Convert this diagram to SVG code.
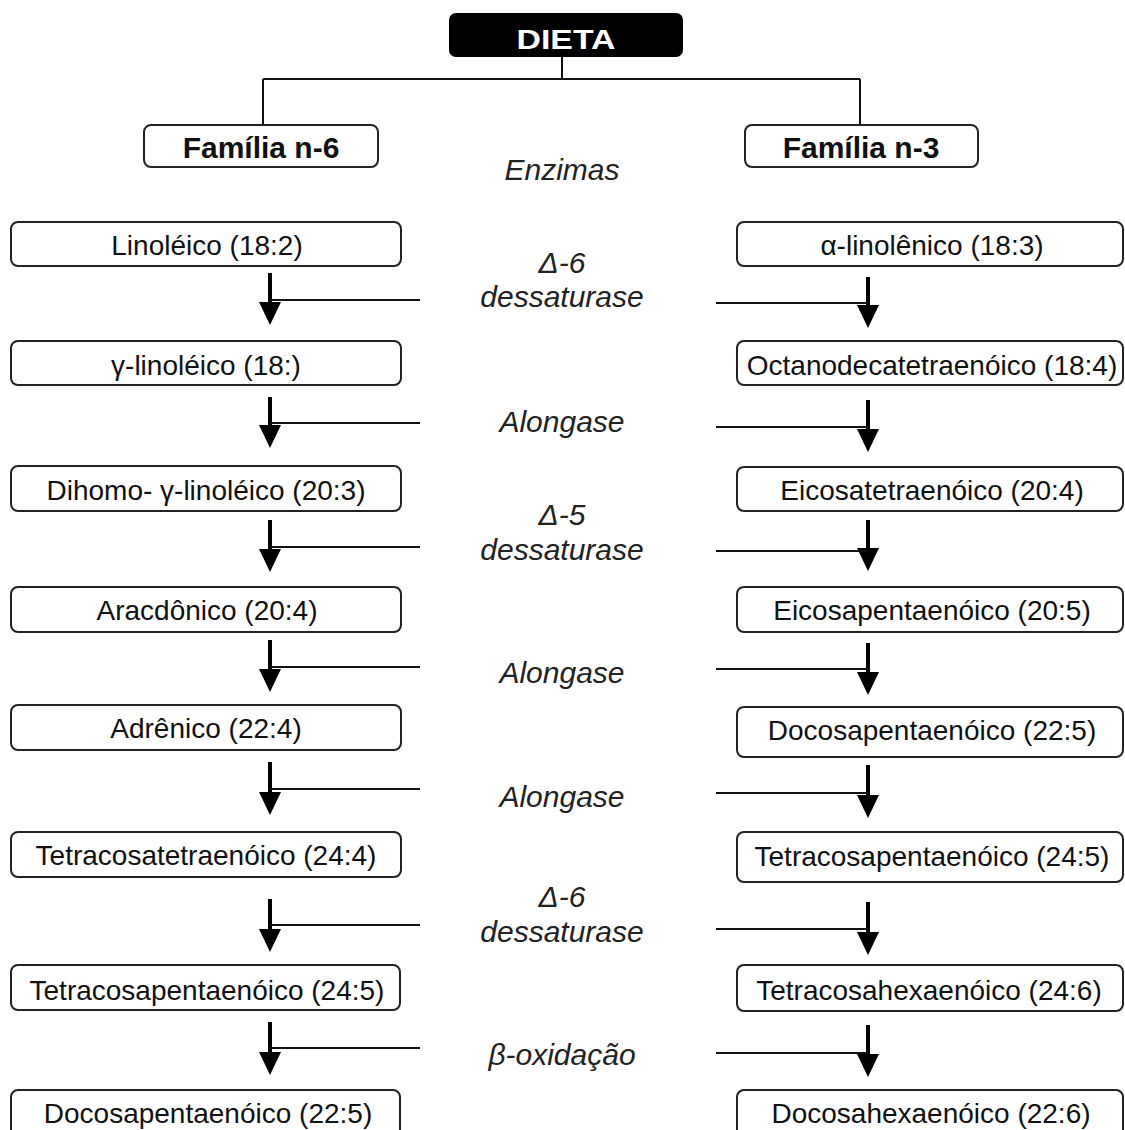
<svg xmlns="http://www.w3.org/2000/svg" width="1125" height="1130" viewBox="0 0 1125 1130">
<style>
.box{fill:#fff;stroke:#222;stroke-width:2}
.t{font-family:"Liberation Sans",Arial,sans-serif;font-size:28px;fill:#111;text-anchor:middle}
.h{font-family:"Liberation Sans",Arial,sans-serif;font-size:30px;font-weight:bold;fill:#111;text-anchor:middle}
.e{font-family:"Liberation Sans",Arial,sans-serif;font-size:30px;font-style:italic;fill:#222;text-anchor:middle}
.ln{stroke:#111;stroke-width:2;fill:none}
.ar{stroke:#000;stroke-width:4;fill:none}
</style>
<defs>
<marker id="ah" viewBox="0 0 22 23" refX="11" refY="23" markerWidth="22" markerHeight="23" markerUnits="userSpaceOnUse" orient="auto-start-reverse">
<path d="M0,0 L22,0 L11,23 Z" fill="#000"/>
</marker>
</defs>

<g id="connectors">
<path class="ln" d="M562,57 V79 M263,79 H860 M263,79 V125 M860,79 V125"/>
<g id="arrows">
<path class="ar" d="M270,273 V302"/><path d="M259,302 H281 L270,325 Z"/>
<path class="ar" d="M868,277 V305"/><path d="M857,305 H879 L868,328 Z"/>
<path class="ar" d="M270,397 V425"/><path d="M259,425 H281 L270,448 Z"/>
<path class="ar" d="M868,400 V429"/><path d="M857,429 H879 L868,452 Z"/>
<path class="ar" d="M270,520 V549"/><path d="M259,549 H281 L270,572 Z"/>
<path class="ar" d="M868,520 V548"/><path d="M857,548 H879 L868,571 Z"/>
<path class="ar" d="M270,640 V669"/><path d="M259,669 H281 L270,692 Z"/>
<path class="ar" d="M868,643 V672"/><path d="M857,672 H879 L868,695 Z"/>
<path class="ar" d="M270,762 V792"/><path d="M259,792 H281 L270,815 Z"/>
<path class="ar" d="M868,765 V795"/><path d="M857,795 H879 L868,818 Z"/>
<path class="ar" d="M270,899 V929"/><path d="M259,929 H281 L270,952 Z"/>
<path class="ar" d="M868,902 V932"/><path d="M857,932 H879 L868,955 Z"/>
<path class="ar" d="M270,1022 V1052"/><path d="M259,1052 H281 L270,1075 Z"/>
<path class="ar" d="M868,1025 V1054"/><path d="M857,1054 H879 L868,1077 Z"/>
</g>
<g id="enzyme-lines">
<path class="ln" d="M270,300 H420 M716,303 H868"/>
<path class="ln" d="M270,423 H420 M716,427 H868"/>
<path class="ln" d="M270,547 H420 M716,551 H868"/>
<path class="ln" d="M270,667 H420 M716,669 H868"/>
<path class="ln" d="M270,789 H420 M716,793 H868"/>
<path class="ln" d="M270,925 H420 M716,929 H868"/>
<path class="ln" d="M270,1048 H420 M716,1053 H868"/>
</g>
</g>

<g id="dieta">
<rect x="449" y="13" width="234" height="44" rx="7" fill="#000"/>
<text x="566" y="49" font-family="'Liberation Sans',Arial,sans-serif" font-size="28" font-weight="bold" fill="#fff" text-anchor="middle" textLength="99" lengthAdjust="spacingAndGlyphs">DIETA</text>
</g>
<g id="familia-n6">
<rect class="box" x="144" y="125" width="234" height="42" rx="7"/>
<text class="h" x="261" y="158">Família n-6</text>
</g>
<g id="familia-n3">
<rect class="box" x="745" y="125" width="233" height="42" rx="7"/>
<text class="h" x="861" y="158">Família n-3</text>
</g>

<g id="enzymes">
<text class="e" x="562" y="180">Enzimas</text>
<text class="e" x="562" y="273">Δ-6</text>
<text class="e" x="562" y="307">dessaturase</text>
<text class="e" x="562" y="432">Alongase</text>
<text class="e" x="562" y="525">Δ-5</text>
<text class="e" x="562" y="560">dessaturase</text>
<text class="e" x="562" y="683">Alongase</text>
<text class="e" x="562" y="807">Alongase</text>
<text class="e" x="562" y="907">Δ-6</text>
<text class="e" x="562" y="942">dessaturase</text>
<text class="e" x="562" y="1065">β-oxidação</text>
</g>

<g id="n6-1"><rect class="box" x="11" y="222" width="390" height="44" rx="7"/><text class="t" x="207" y="255">Linoléico (18:2)</text></g>
<g id="n6-2"><rect class="box" x="11" y="341" width="390" height="44" rx="7"/><text class="t" x="206" y="375">γ-linoléico (18:)</text></g>
<g id="n6-3"><rect class="box" x="11" y="466" width="390" height="45" rx="7"/><text class="t" x="206" y="500">Dihomo- γ-linoléico (20:3)</text></g>
<g id="n6-4"><rect class="box" x="11" y="587" width="390" height="45" rx="7"/><text class="t" x="207" y="620">Aracdônico (20:4)</text></g>
<g id="n6-5"><rect class="box" x="11" y="705" width="390" height="45" rx="7"/><text class="t" x="206" y="738">Adrênico (22:4)</text></g>
<g id="n6-6"><rect class="box" x="11" y="832" width="390" height="45" rx="7"/><text class="t" x="206" y="865">Tetracosatetraenóico (24:4)</text></g>
<g id="n6-7"><rect class="box" x="11" y="965" width="389" height="45" rx="7"/><text class="t" x="207" y="1000">Tetracosapentaenóico (24:5)</text></g>
<g id="n6-8"><rect class="box" x="11" y="1090" width="389" height="50" rx="7"/><text class="t" x="208" y="1123">Docosapentaenóico (22:5)</text></g>

<g id="n3-1"><rect class="box" x="737" y="222" width="386" height="44" rx="7"/><text class="t" x="932" y="255">α-linolênico (18:3)</text></g>
<g id="n3-2"><rect class="box" x="737" y="341" width="386" height="44" rx="7"/><text class="t" x="932" y="375">Octanodecatetraenóico (18:4)</text></g>
<g id="n3-3"><rect class="box" x="737" y="467" width="386" height="44" rx="7"/><text class="t" x="932" y="500">Eicosatetraenóico (20:4)</text></g>
<g id="n3-4"><rect class="box" x="737" y="587" width="386" height="45" rx="7"/><text class="t" x="932" y="620">Eicosapentaenóico (20:5)</text></g>
<g id="n3-5"><rect class="box" x="737" y="707" width="386" height="50" rx="7"/><text class="t" x="932" y="740">Docosapentaenóico (22:5)</text></g>
<g id="n3-6"><rect class="box" x="737" y="832" width="386" height="50" rx="7"/><text class="t" x="932" y="866">Tetracosapentaenóico (24:5)</text></g>
<g id="n3-7"><rect class="box" x="737" y="965" width="386" height="46" rx="7"/><text class="t" x="929" y="1000">Tetracosahexaenóico (24:6)</text></g>
<g id="n3-8"><rect class="box" x="737" y="1090" width="386" height="50" rx="7"/><text class="t" x="931" y="1123">Docosahexaenóico (22:6)</text></g>
</svg>
